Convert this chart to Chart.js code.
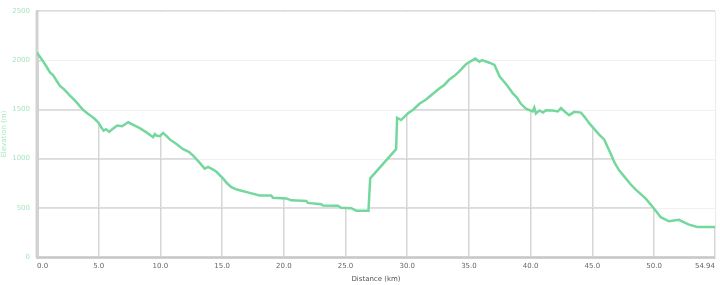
<!DOCTYPE html>
<html>
<head>
<meta charset="utf-8">
<script src="https://cdn.jsdelivr.net/npm/chart.js@4/dist/chart.umd.min.js"></script>
<style>
  html, body { margin: 0; padding: 0; background: #fff; }
  #wrap { width: 720px; height: 285px; position: relative; }
</style>
</head>
<body>
<div id="wrap"><canvas id="canvas"></canvas></div>
<script>
/* datos */

const distancia = [0, 0.1, 0.25, 0.5, 0.8, 1.05, 1.3, 1.6, 1.86, 2.2, 2.5, 2.67, 3.0, 3.3, 3.48, 3.8, 4.1, 4.29, 4.69, 5.0,
    5.2, 5.4, 5.6, 5.85, 6.1, 6.5, 6.9, 7.2, 7.39, 7.8, 8.33, 8.9, 9.41, 9.55, 9.68, 9.95, 10.22, 10.5, 10.76, 11.3,
    11.84, 12.3, 12.65, 13.1, 13.59, 13.86, 14.2, 14.54, 15.07, 15.4, 15.75, 16.1, 16.42, 17.23, 18.04, 18.98, 19.12, 20.2, 20.6, 21.82,
    21.95, 23.03, 23.16, 24.38, 24.65, 25.46, 25.87, 26.86, 27.0, 29.1, 29.18, 29.5, 30.04, 30.5, 30.99, 31.5, 32.06, 32.6, 33.0, 33.41,
    33.8, 34.22, 34.76, 35.3, 35.52, 35.84, 36.06, 36.66, 37.07, 37.48, 38.13, 38.54, 38.9, 39.21, 39.62, 40.16, 40.3, 40.43, 40.7, 41.0,
    41.24, 41.8, 42.2, 42.46, 42.8, 43.13, 43.53, 44.07, 44.4, 44.74, 45.1, 45.55, 45.96, 46.5, 46.8, 47.17, 47.71, 48.1, 48.52, 49.33,
    50.0, 50.54, 51.21, 52.02, 52.4, 52.83, 53.51, 54.94];

const elevacion = [2080, 2060, 2035, 1990, 1930, 1877, 1850, 1790, 1740, 1705, 1665, 1640, 1600, 1560, 1532, 1490, 1460, 1443, 1403, 1364,
    1320, 1285, 1300, 1272, 1300, 1337, 1330, 1355, 1370, 1345, 1311, 1265, 1219, 1250, 1235, 1229, 1262, 1230, 1196, 1150,
    1097, 1070, 1031, 970, 899, 916, 895, 867, 800, 750, 711, 690, 679, 652, 626, 626, 603, 596, 576, 570,
    550, 537, 524, 521, 501, 497, 471, 471, 800, 1097, 1416, 1393, 1459, 1500, 1558, 1600, 1657, 1713, 1750, 1805,
    1840, 1887, 1960, 2003, 2019, 1986, 2003, 1976, 1953, 1838, 1739, 1667, 1620, 1558, 1509, 1482, 1520, 1459, 1490, 1470,
    1492, 1490, 1480, 1515, 1475, 1443, 1476, 1469, 1420, 1361, 1310, 1245, 1196, 1047, 960, 882, 800, 740, 685, 593,
    494, 405, 363, 378, 355, 329, 306, 306];

const ticksX = [0, 5, 10, 15, 20, 25, 30, 35, 40, 45, 50, 54.94];
const ticksY = [0, 500, 1000, 1500, 2000, 2500];

const verde = '#74d89e';
const verdeClaro = '#a6e6bf';
const fuente = { family: 'DejaVu Sans', size: 7 };

/* lineas horizontales suaves por encima del relleno blanco */

const gridSuave = {
    id: 'gridSuave',
    beforeDatasetsDraw(chart) {
        const c = chart.ctx;
        const a = chart.chartArea;
        const y = chart.scales.y;
        c.save();
        c.strokeStyle = 'rgba(0,0,0,0.05)';
        c.lineWidth = 1;
        ticksY.forEach(function(v){
            const py = Math.round(y.getPixelForValue(v)) + 0.5;
            c.beginPath();
            c.moveTo(a.left, py);
            c.lineTo(a.right, py);
            c.stroke();
        });
        // eje izquierdo otra vez, el relleno lo tapa
        c.strokeStyle = '#d2d2d2';
        c.lineWidth = 3;
        c.beginPath();
        c.moveTo(a.left, a.top);
        c.lineTo(a.left, a.bottom);
        c.stroke();
        c.restore();
    }
};

const puntos = distancia.map(function(d, i){ return { x: d, y: elevacion[i] }; });

new Chart(document.getElementById('canvas'), {
    type: 'line',
    data: {
        datasets: [{
            data: puntos,
            borderColor: verde,
            borderWidth: 2.5,
            backgroundColor: '#ffffff',
            fill: 'end',
            pointRadius: 0,
            tension: 0
        }]
    },
    options: {
        responsive: true,
        maintainAspectRatio: false,
        animation: false,
        layout: { padding: { top: 2, right: 4, left: 0, bottom: 0 } },
        plugins: {
            legend: { display: false },
            tooltip: { enabled: false },
            filler: { drawTime: 'beforeDatasetsDraw' }
        },
        scales: {
            x: {
                type: 'linear',
                min: 0,
                max: 54.94,
                afterBuildTicks: function(s){ s.ticks = ticksX.map(function(v){ return { value: v }; }); },
                afterFit: function(s){ s.height = 28; },
                grid: { color: '#d6d6d6', lineWidth: 1.5, drawTicks: false },
                border: { color: '#d2d2d2', width: 3 },
                ticks: {
                    align: 'inner',
                    padding: 5,
                    maxRotation: 0,
                    autoSkip: false,
                    color: '#666',
                    font: fuente,
                    callback: function(v){ return v === 54.94 ? '54.94' : v.toFixed(1); }
                },
                title: {
                    display: true,
                    text: 'Distance (km)',
                    color: '#555',
                    font: fuente,
                    padding: { top: 0, bottom: 2 }
                }
            },
            y: {
                min: 0,
                max: 2500,
                afterBuildTicks: function(s){ s.ticks = ticksY.map(function(v){ return { value: v }; }); },
                afterFit: function(s){ s.width = 37; },
                grid: { color: '#dcdcdc', lineWidth: 1.5, drawTicks: false },
                border: { color: '#d2d2d2', width: 3 },
                ticks: {
                    padding: 7,
                    color: verdeClaro,
                    font: fuente,
                    callback: function(v){ return String(v); }
                },
                title: {
                    display: true,
                    text: 'Elevation (m)',
                    color: verdeClaro,
                    font: fuente,
                    padding: { top: 0, bottom: 0 }
                }
            }
        }
    },
    plugins: [gridSuave]
});
</script>
</body>
</html>
